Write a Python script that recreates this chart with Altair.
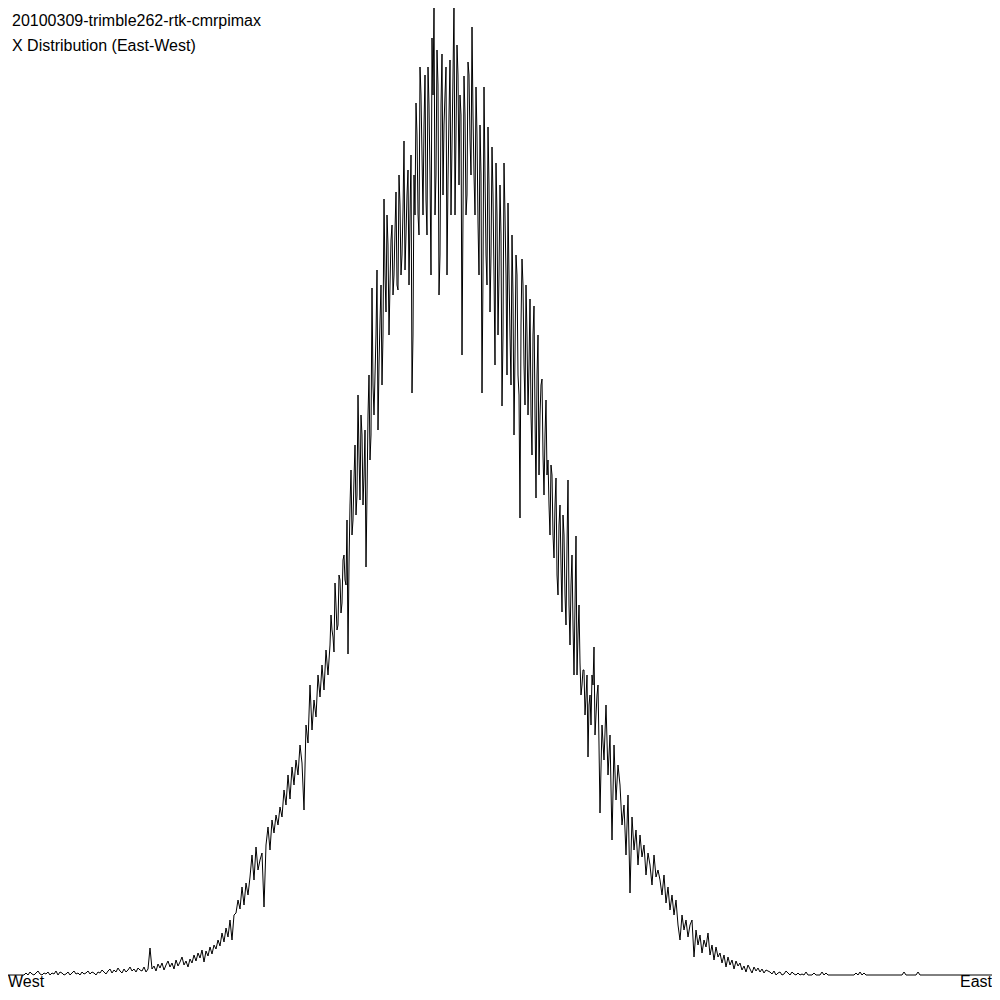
import altair as alt
import pandas as pd

TITLE_1 = "20100309-trimble262-rtk-cmrpimax"
TITLE_2 = "X Distribution (East-West)"
LEFT_LABEL = "West"
RIGHT_LABEL = "East"

# histogram counts for the even bins 0, 2, ..., 1000
counts_even = []
counts_even += [0, 0, 0, 0, 0, 0, 0, 0, 0, 0, 0, 0, 0]
counts_even += [2, 0, 3, 1, 0, 2, 4, 1, 0, 2, 1, 3]
counts_even += [0, 2, 1, 4, 0, 3, 2, 0, 1, 3, 0, 2, 4, 1, 2, 0, 3, 1, 2, 4, 1, 3, 2, 0, 3]
counts_even += [2, 5, 3, 1, 4, 6, 2, 5, 3, 7, 4, 2, 6, 3, 5, 8, 4, 6, 3, 7, 5, 4, 8, 3, 6]
counts_even += [27, 6, 9, 4, 11, 7, 12, 5, 10, 14, 8, 12, 6, 15, 9, 13, 18, 10, 14, 8]
counts_even += [16, 12, 20, 14, 22, 17, 25, 13, 24, 19, 28, 21, 30]
counts_even += [26, 35, 29, 42, 33, 47, 38, 55, 35, 60]
counts_even += [62, 75, 66, 88, 70, 92, 80]
counts_even += [98, 120, 95, 128, 105, 115, 122]
counts_even += [68]
counts_even += [130, 148, 125, 155, 142, 160, 150, 168, 158]
counts_even += [185, 170, 200, 176, 208, 190, 215, 200, 230, 212]
counts_even += [165]
counts_even += [250, 232, 290, 245, 275, 258, 300]
counts_even += [278, 310, 285, 325, 300, 330, 345, 323, 370, 350]
counts_even += [395, 372, 420, 390]
counts_even += [321]
counts_even += [470, 440, 497, 460]
counts_even += [580]
counts_even += [475, 540, 500]
counts_even += [408]
counts_even += [560, 515]
counts_even += [687]
counts_even += [560, 640, 545, 654, 590]
counts_even += [776]
counts_even += [663, 730, 690, 750]
counts_even += [700, 783, 685, 770, 720]
counts_even += [834]
counts_even += [740, 805, 760]
counts_even += [582]
counts_even += [800, 872, 761, 908, 820]
counts_even += [850, 775, 908, 800, 937]
counts_even += [968]
counts_even += [800, 890, 720, 921]
counts_even += [850, 908, 796, 915, 830]
counts_even += [973]
counts_even += [840, 900]
counts_even += [880, 620]
counts_even += [899, 760, 913, 835]
counts_even += [948]
counts_even += [800, 888, 752]
counts_even += [850, 582, 888]
counts_even += [720, 848, 663, 828, 700, 812, 640]
counts_even += [790, 569, 812, 700]
counts_even += [772, 640, 740, 540, 720, 600]
counts_even += [457]
counts_even += [716, 610, 690]
counts_even += [560, 676, 520, 669, 477, 640]
counts_even += [560, 596, 480, 575]
counts_even += [515, 440, 500]
counts_even += [417, 497, 380]
counts_even += [470, 363, 440, 350, 495, 330]
counts_even += [420, 300, 439, 340]
counts_even += [312, 290, 305, 278]
counts_even += [218]
counts_even += [280, 300]
counts_even += [328]
counts_even += [260, 290]
counts_even += [162]
counts_even += [250, 215, 270, 200, 240]
counts_even += [135]
counts_even += [230, 175, 210]
counts_even += [190, 150, 170, 120, 180]
counts_even += [82]
counts_even += [158, 125, 145, 110]
counts_even += [140, 118, 130, 100, 122]
counts_even += [110, 90, 120, 98, 105]
counts_even += [95, 80, 100, 72, 88]
counts_even += [65, 80, 60, 75, 50]
counts_even += [35, 60, 45, 55, 38, 50, 55]
counts_even += [18, 45, 30, 40, 22, 35, 28, 42, 20, 30]
counts_even += [15, 28, 18]
counts_even += [22, 12, 20, 8, 18, 10, 15, 6, 14, 9]
counts_even += [12, 5, 9, 3, 10, 6, 2, 8, 4, 7, 3, 6, 2, 5, 4]
counts_even += [3, 1, 4, 0, 2, 3, 0, 1, 4, 2, 0, 3, 1, 0, 2, 0, 1, 0, 3, 0]
counts_even += [0, 0, 2, 0, 0, 0, 3, 0, 2, 0]
counts_even += [0, 0, 0, 0, 0, 0, 0, 0, 0, 0]
counts_even += [0, 0, 0, 2, 0, 3, 0, 2, 0, 0]
counts_even += [0] * 15
counts_even += [0, 0, 3, 0, 0, 0, 0, 0, 0, 3]
counts_even += [0] * 41

# histogram counts for the odd bins 331, 333, ..., 599 (the dense centre)
counts_odd = []
counts_odd += [360, 338, 392, 345]
counts_odd += [400, 362, 415, 395, 455, 410]
counts_odd += [505, 455, 530, 480]
counts_odd += [520, 560, 470, 545, 480]
counts_odd += [600, 540, 590]
counts_odd += [600, 705, 610, 690, 640]
counts_odd += [700, 760, 640, 735, 680]
counts_odd += [745, 690, 800, 700, 765]
counts_odd += [705, 780, 690, 820, 640]
counts_odd += [760, 840, 740, 880, 760]
counts_odd += [900, 740, 870, 700, 880]
counts_odd += [760, 925, 680, 870, 780]
counts_odd += [880, 700, 860, 760, 900]
counts_odd += [760, 930, 790, 860, 760]
counts_odd += [860, 780, 900, 800, 860]
counts_odd += [760, 840, 700, 800, 700]
counts_odd += [800, 690, 790, 720, 780]
counts_odd += [610, 760, 700, 740, 640]
counts_odd += [760, 600, 700, 590, 680]
counts_odd += [620, 700, 580, 650, 690]
counts_odd += [570, 640, 610, 560, 640]
counts_odd += [560, 600, 500, 590, 520]
counts_odd += [540, 500, 470, 510, 440]
counts_odd += [470, 400, 450, 410, 460]
counts_odd += [380, 430, 370, 390, 350]
counts_odd += [370, 300, 370, 280, 305]
counts_odd += [260, 300, 270, 250, 290]
counts_odd += [240, 280, 230]

assert len(counts_even) == 501, len(counts_even)
assert len(counts_odd) == 135, len(counts_odd)

bins = list(range(0, 1001, 2)) + list(range(331, 600, 2))
df = pd.DataFrame({"bin": bins, "count": counts_even + counts_odd}).sort_values("bin")

W = 984
H = 984

line = alt.Chart(df).mark_line(color="black", strokeWidth=1, clip=True).encode(
    x=alt.X("bin:Q", axis=None, scale=alt.Scale(domain=[8, 992], nice=False, zero=False)),
    y=alt.Y("count:Q", axis=None, scale=alt.Scale(domain=[0, 967], range=[967, 0], nice=False)),
    order="bin:Q",
)

def label(txt, x, y, align="left"):
    return alt.Chart(pd.DataFrame({"t": [txt]})).mark_text(
        font="Liberation Sans", fontSize=16, color="black", align=align, baseline="alphabetic"
    ).encode(text="t:N", x=alt.value(x), y=alt.value(y))

chart = alt.layer(
    line,
    label(TITLE_1, 4, 18),
    label(TITLE_2, 4, 43),
    label(LEFT_LABEL, 0, 979),
    label(RIGHT_LABEL, 984, 979, align="right"),
).properties(
    width=W, height=H, padding=0, autosize=alt.AutoSizeParams(type="none"),
    background="white",
).configure_view(stroke=None)

chart.save("out.html", embed_options={"renderer": "svg", "actions": False})
